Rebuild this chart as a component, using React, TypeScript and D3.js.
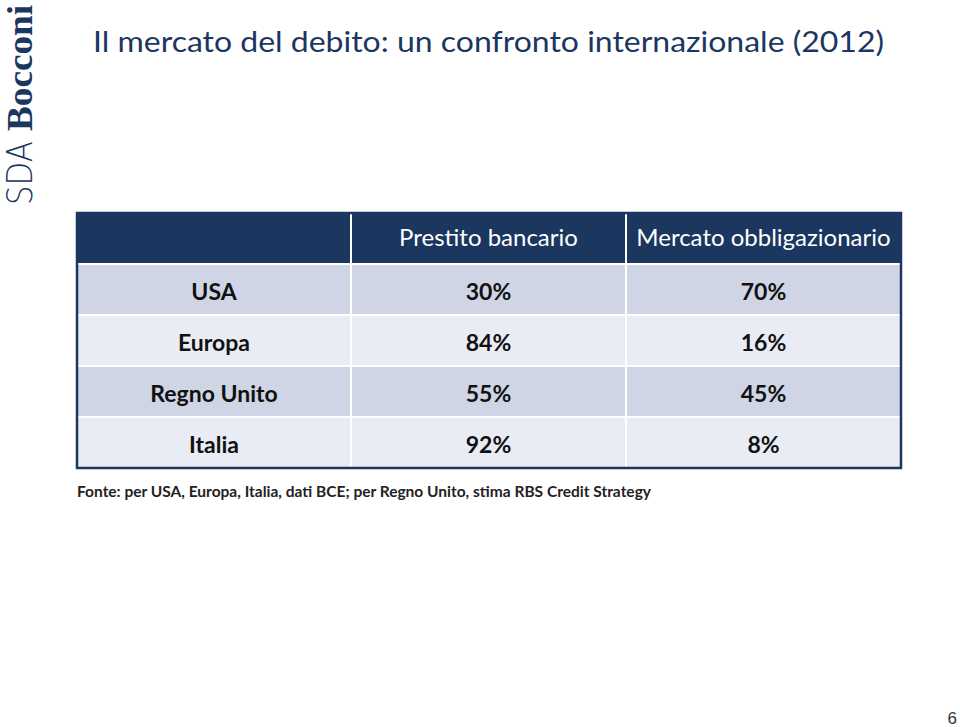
import React from "react";
import * as d3 from "d3";

const categories = ["USA", "Europa", "Regno Unito", "Italia"];
const seriesNames = ["Prestito bancario", "Mercato obbligazionario"];
const prestito = [30, 84, 55, 92];
const obbligazionario = [70, 16, 45, 8];
const title = "Il mercato del debito: un confronto internazionale (2012)";
const footnote = "Fonte: per USA, Europa, Italia, dati BCE; per Regno Unito, stima RBS Credit Strategy";

const NAVY = "#1b365f";
const DARK_ROW = "#cfd5e4";
const LIGHT_ROW = "#e9ecf4";
const FONT = "Lato, 'Open Sans', sans-serif";

export default function App() {
  const W = 960, H = 727;
  const left = 77, right = 901, top = 213;
  const headerH = 51;
  const rowH = 51;
  const columns = ["", ...seriesNames];
  const x = d3.scaleOrdinal<string, number>().domain(columns).range([77, 351, 626]);
  const colW = [274, 275, 275];
  const y = d3.scaleBand().domain(categories).range([top + headerH, top + headerH + rowH * categories.length]).padding(0);
  const bottom = top + headerH + rowH * categories.length;
  const values = [prestito, obbligazionario];

  return (
    <svg width={W} height={H} style={{ position: "fixed", left: 0, top: 0, background: "#fff" }} fontFamily={FONT}>
      {/* logo */}
      <g transform="translate(32,205) rotate(-90)">
        <text x={0} y={0} fontFamily="'DejaVu Sans', sans-serif" fontWeight={200} fontSize={35} fill={NAVY} textLength={64} lengthAdjust="spacingAndGlyphs">SDA</text>
        <text x={74} y={0} fontFamily="'Liberation Serif', serif" fontWeight="bold" fontSize={35} fill={NAVY} textLength={126} lengthAdjust="spacingAndGlyphs">Bocconi</text>
      </g>
      {/* title */}
      <text x={93} y={52} fontSize={29} fill={NAVY} textLength={791} lengthAdjust="spacingAndGlyphs">{title}</text>

      {/* header */}
      <rect x={left} y={top} width={right - left} height={headerH} fill={NAVY} />
      {columns.map((c, i) => i > 0 && (
        <line key={c} x1={x(c)} x2={x(c)} y1={top} y2={top + headerH} stroke="#fff" strokeWidth={2} />
      ))}
      {seriesNames.map((s, i) => (
        <text key={s} x={x(s) + colW[i + 1] / 2} y={top + 33} textAnchor="middle" fill="#fff" fontSize={24}>{s}</text>
      ))}

      {/* rows */}
      {categories.map((c, r) => (
        <g key={c}>
          <rect x={left} y={y(c)} width={right - left} height={y.bandwidth()} fill={r % 2 === 0 ? DARK_ROW : LIGHT_ROW} />
          <line x1={left} x2={right} y1={y(c)} y2={y(c)} stroke="#fff" strokeWidth={2} />
          {columns.map((col, i) => i > 0 && (
            <line key={col} x1={x(col)} x2={x(col)} y1={y(c)} y2={y(c) + y.bandwidth()} stroke="#fff" strokeWidth={2} />
          ))}
          <text x={x("") + colW[0] / 2} y={y(c) + 36} textAnchor="middle" fontWeight="bold" fontSize={23} fill="#111">{c}</text>
          {values.map((v, i) => (
            <text key={i} x={x(seriesNames[i]) + colW[i + 1] / 2} y={y(c) + 36} textAnchor="middle" fontWeight="bold" fontSize={23} fill="#111">{d3.format(".0f")(v[r]) + "%"}</text>
          ))}
        </g>
      ))}
      <rect x={left} y={top} width={right - left} height={bottom - top} fill="none" stroke={NAVY} strokeWidth={2.5} />

      {/* footnote */}
      <text x={77} y={497} fontWeight="bold" fontSize={15} fill="#222" textLength={574} lengthAdjust="spacingAndGlyphs">{footnote}</text>

      {/* page number */}
      <text x={957} y={724} textAnchor="end" fontFamily="'Liberation Sans', Arial, sans-serif" fontSize={17} fill="#333">6</text>
    </svg>
  );
}
